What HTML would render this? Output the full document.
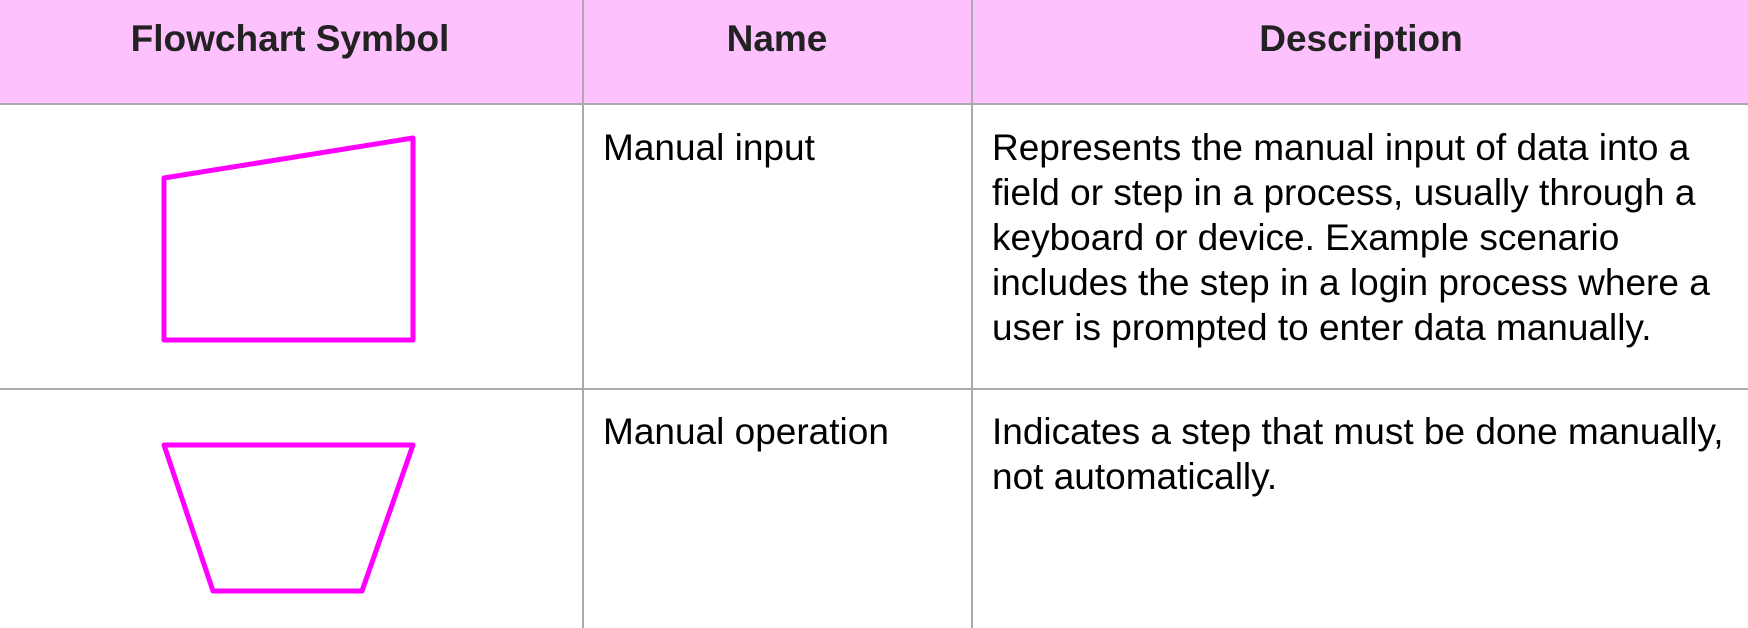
<!DOCTYPE html>
<html><head><style>
html,body{margin:0;padding:0;width:1748px;height:628px;overflow:hidden;background:#fff;font-family:"Liberation Sans",Arial,sans-serif;}
.hdr{position:absolute;left:0;top:0;width:1748px;height:103px;background:#fdc1fd;}
.vl{position:absolute;top:0;width:2px;height:628px;background:#aaa;}
.hl{position:absolute;left:0;width:1748px;height:2px;background:#aaa;}
.h{position:absolute;top:18px;font-weight:bold;font-size:37px;color:#222;transform:translateX(-50%);white-space:nowrap;}
.t{position:absolute;font-size:37px;line-height:45px;color:#000;white-space:nowrap;}
</style></head><body>
<div class="hdr"></div>
<div class="hl" style="top:103px"></div>
<div class="hl" style="top:388px"></div>
<div class="vl" style="left:582px"></div>
<div class="vl" style="left:971px"></div>
<div class="h" style="left:290px">Flowchart Symbol</div>
<div class="h" style="left:777px">Name</div>
<div class="h" style="left:1361px">Description</div>
<div class="t" style="left:603px;top:125px">Manual input</div>
<div class="t" style="left:992px;top:125px">Represents the manual input of data into a<br>field or step in a process, usually through a<br>keyboard or device. Example scenario<br>includes the step in a login process where a<br>user is prompted to enter data manually.</div>
<div class="t" style="left:603px;top:409px">Manual operation</div>
<div class="t" style="left:992px;top:409px">Indicates a step that must be done manually,<br>not automatically.</div>
<svg width="1748" height="628" style="position:absolute;left:0;top:0">
<polygon points="164,178 413,138 413,340 164,340" fill="none" stroke="#f0f" stroke-width="5" stroke-linejoin="round"/>
<polygon points="164,445 413,445 362,591 213,591" fill="none" stroke="#f0f" stroke-width="5" stroke-linejoin="round"/>
</svg>
</body></html>
